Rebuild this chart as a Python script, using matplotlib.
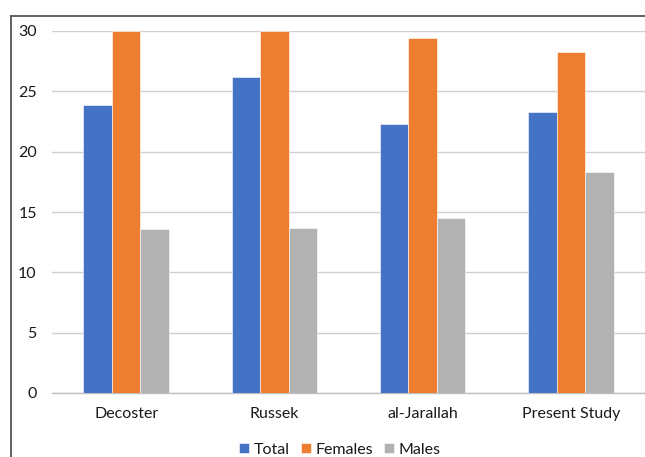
import matplotlib
matplotlib.use("Agg")
import matplotlib.pyplot as plt
from matplotlib.lines import Line2D
import numpy as np

categories = ["Decoster", "Russek", "al-Jarallah", "Present Study"]
series_names = ["Total", "Females", "Males"]
total = [23.9, 26.2, 22.3, 23.3]
females = [30.0, 30.0, 29.4, 28.3]
males = [13.6, 13.7, 14.5, 18.3]
colors = ["#4472C4", "#ED7D31", "#B2B2B2"]
yticks = [0, 5, 10, 15, 20, 25, 30]

plt.rcParams['font.family'] = ['Lato', 'DejaVu Sans']

fig = plt.figure(figsize=(6.45, 4.57), dpi=100)
ax = fig.add_axes([52/645, 64/457, 1 - 52/645, (393-31)/457])

x = np.arange(len(categories))
w = 0.192
for i, (vals, name, c) in enumerate(zip([total, females, males], series_names, colors)):
    ax.bar(x + (i - 1) * w, vals, width=w, color=c, label=name, zorder=3,
           edgecolor='white', linewidth=0.4)

ax.set_xlim(-0.5, 3.5)
ax.set_ylim(0, 30)
ax.set_yticks(yticks)
ax.set_xticks(x)
ax.set_xticklabels(categories)
ax.yaxis.grid(True, color="#d0d0d0", linewidth=1.0, zorder=0)
ax.set_axisbelow(True)
for s in ["top", "right", "left"]:
    ax.spines[s].set_visible(False)
ax.spines["bottom"].set_color("#bfbfbf")
ax.spines["bottom"].set_linewidth(1.0)
ax.tick_params(axis='both', length=0, labelsize=11.5, colors="#1a1a1a")
ax.tick_params(axis='x', pad=10)
ax.tick_params(axis='y', pad=11)

leg = fig.legend(loc="center", bbox_to_anchor=(340/645, 1 - 450/457), ncol=3,
                 frameon=False, fontsize=11.5, handlelength=0.6, handleheight=0.6,
                 handletextpad=0.3, columnspacing=0.7)
for t in leg.get_texts():
    t.set_color("#1a1a1a")

# outer border (left and top edges visible)
fig.add_artist(Line2D([11/645, 11/645], [0, 1 - 16/457], transform=fig.transFigure,
                      color="#555555", linewidth=1.3))
fig.add_artist(Line2D([11/645, 1], [1 - 16/457, 1 - 16/457], transform=fig.transFigure,
                      color="#555555", linewidth=1.3))

fig.savefig("out.png", dpi=100)
